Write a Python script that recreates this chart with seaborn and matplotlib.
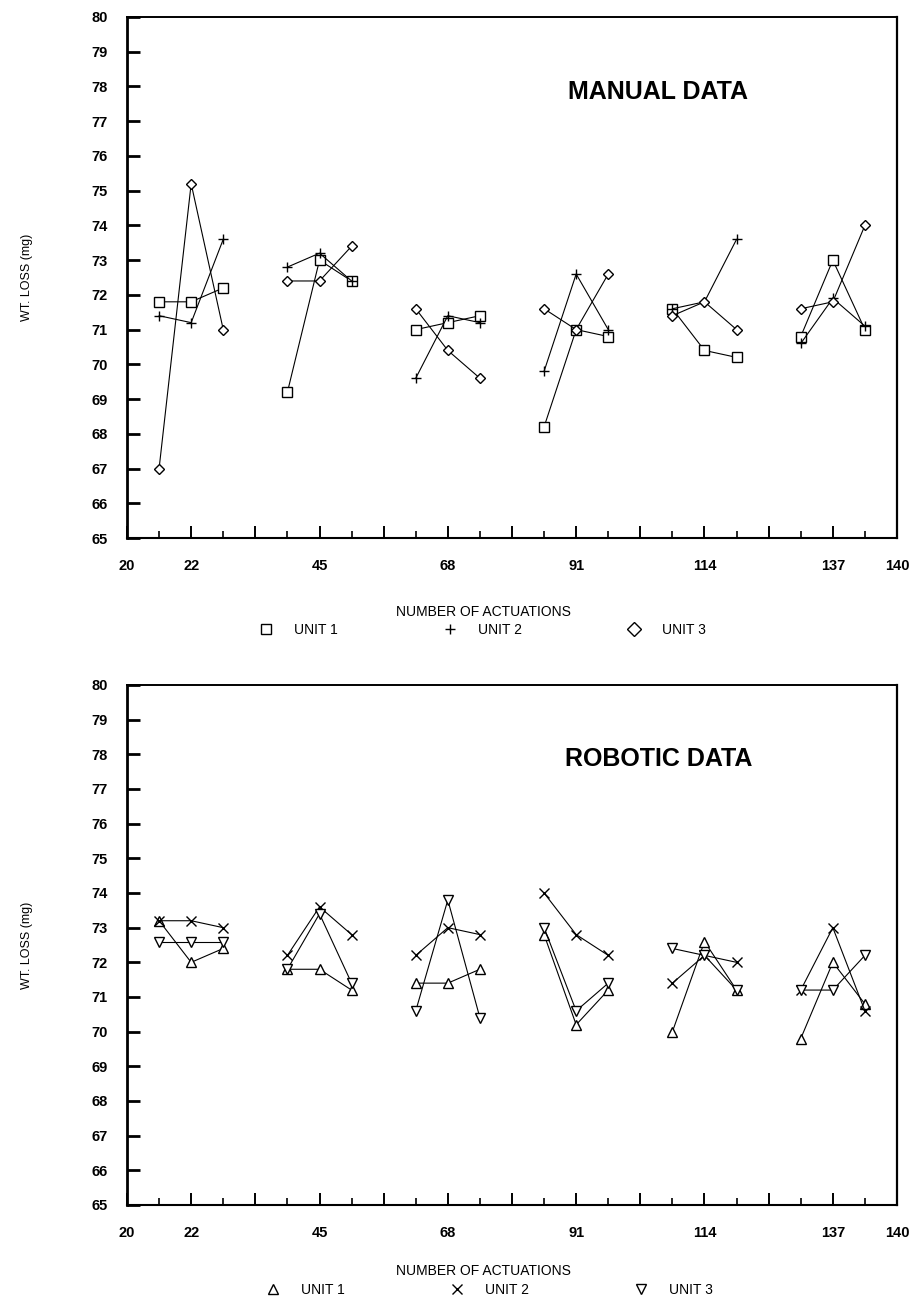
import numpy as np
import pandas as pd
import matplotlib
matplotlib.use("Agg")
import matplotlib.pyplot as plt
from matplotlib.lines import Line2D
import seaborn as sns

# ---------------- data ----------------
groups = ["22", "45", "68", "91", "114", "137"]
edge_labels = ["20", "140"]
units = ["UNIT 1", "UNIT 2", "UNIT 3"]

# three successive readings per unit within each actuation group
manual_unit1 = [[71.8, 71.8, 72.2], [69.2, 73.0, 72.4], [71.0, 71.2, 71.4],
                [68.2, 71.0, 70.8], [71.6, 70.4, 70.2], [70.8, 73.0, 71.0]]
manual_unit2 = [[71.4, 71.2, 73.6], [72.8, 73.2, 72.4], [69.6, 71.4, 71.2],
                [69.8, 72.6, 71.0], [71.6, 71.8, 73.6], [70.6, 71.9, 71.1]]
manual_unit3 = [[67.0, 75.2, 71.0], [72.4, 72.4, 73.4], [71.6, 70.4, 69.6],
                [71.6, 71.0, 72.6], [71.4, 71.8, 71.0], [71.6, 71.8, 74.0]]

robotic_unit1 = [[73.2, 72.0, 72.4], [71.8, 71.8, 71.2], [71.4, 71.4, 71.8],
                 [72.8, 70.2, 71.2], [70.0, 72.6, 71.2], [69.8, 72.0, 70.8]]
robotic_unit2 = [[73.2, 73.2, 73.0], [72.2, 73.6, 72.8], [72.2, 73.0, 72.8],
                 [74.0, 72.8, 72.2], [71.4, 72.2, 72.0], [71.2, 73.0, 70.6]]
robotic_unit3 = [[72.6, 72.6, 72.6], [71.8, 73.4, 71.4], [70.6, 73.8, 70.4],
                 [73.0, 70.6, 71.4], [72.4, 72.2, 71.2], [71.2, 71.2, 72.2]]

panel_titles = ["MANUAL DATA", "ROBOTIC DATA"]
xlabel = "NUMBER OF ACTUATIONS"
ylabel = "WT. LOSS (mg)"


def long_df(unit_lists):
    rows = []
    for name, vals in zip(units, unit_lists):
        for gi, g in enumerate(groups):
            for si, v in enumerate(vals[gi]):
                rows.append(dict(unit=name, group=g, gidx=gi, shot=si, value=v))
    df = pd.DataFrame(rows)
    df["pos"] = df["gidx"] + (df["shot"] - 1) * 0.25
    return df


manual_df = long_df([manual_unit1, manual_unit2, manual_unit3])
robotic_df = long_df([robotic_unit1, robotic_unit2, robotic_unit3])

# ---------------- style ----------------
sns.set_theme(style="white", rc={"axes.edgecolor": "black",
                                 "xtick.color": "black", "ytick.color": "black",
                                 "text.color": "black", "axes.labelcolor": "black"})
plt.rcParams["font.family"] = ["Liberation Sans", "DejaVu Sans"]

W, H = 910, 1299
fig = plt.figure(figsize=(W / 100, H / 100), dpi=100)

ax_left, ax_right = 127, 897
panels = [
    dict(ax=fig.add_axes([ax_left / W, 1 - 538 / H, (ax_right - ax_left) / W, 521 / H]),
         df=manual_df, markers={"UNIT 1": "s", "UNIT 2": "+", "UNIT 3": "D"},
         title=panel_titles[0], xlab_y=612, leg_y=630, leg_x=259),
    dict(ax=fig.add_axes([ax_left / W, 1 - 1205 / H, (ax_right - ax_left) / W, 520 / H]),
         df=robotic_df, markers={"UNIT 1": "^", "UNIT 2": "x", "UNIT 3": "v"},
         title=panel_titles[1], xlab_y=1271, leg_y=1290, leg_x=266),
]
marker_sizes = {"s": 6.5, "+": 7.5, "D": 5.5, "^": 7, "x": 6.5, "v": 7}

for p in panels:
    ax = p["ax"]
    mk = p["markers"]
    for u in units:
        sub = p["df"][p["df"]["unit"] == u]
        sns.lineplot(data=sub, x="pos", y="value", units="group",
                     estimator=None, marker=mk[u], color="black",
                     lw=0.8, ms=marker_sizes[mk[u]], mec="black", mfc="white",
                     mew=1.0, legend=False, sort=False, ax=ax)

    ax.set_xlim(-0.5, 5.5)
    ax.set_ylim(65, 80)

    major = np.arange(-0.5, 5.51, 0.5)
    labels = []
    for t in major:
        if abs(t + 0.5) < 1e-9:
            labels.append(edge_labels[0])
        elif abs(t - 5.5) < 1e-9:
            labels.append(edge_labels[1])
        elif abs(t - round(t)) < 1e-9:
            labels.append(groups[int(round(t))])
        else:
            labels.append("")
    ax.set_xticks(major)
    ax.set_xticklabels(labels)
    ax.set_xticks(np.arange(-0.25, 5.5, 0.5), minor=True)
    ax.set_yticks(np.arange(65, 81, 1))

    ax.tick_params(axis="x", which="major", direction="in", length=8.5, width=1.4,
                   pad=15, labelsize=10.5, bottom=True)
    ax.tick_params(axis="x", which="minor", direction="in", length=5, width=1.2,
                   bottom=True)
    ax.tick_params(axis="y", which="major", direction="in", length=9.5, width=2.0,
                   pad=14, labelsize=10.5, left=True)
    for lab in ax.get_xticklabels() + ax.get_yticklabels():
        lab.set_fontweight("bold")

    for side, lw in {"left": 2.0, "bottom": 1.5, "top": 1.4, "right": 1.6}.items():
        ax.spines[side].set_visible(True)
        ax.spines[side].set_linewidth(lw)
        ax.spines[side].set_color("black")

    ax.set_xlabel("")
    ax.set_ylabel(ylabel, fontsize=9)
    ax.yaxis.set_label_coords(-0.122, 0.5)

    ax.text(0.69, 0.857, p["title"], transform=ax.transAxes, ha="center",
            va="center", fontsize=18, fontweight="bold")

    fig.text(483 / W, 1 - p["xlab_y"] / H, xlabel, ha="center", va="center",
             fontsize=10)

    handles = [Line2D([], [], ls="none", marker=mk[u], ms=7.5, mec="black",
                      mfc="white", mew=1.0) for u in units]
    fig.legend(handles, units, ncol=3, loc="center left",
               bbox_to_anchor=(p["leg_x"] / W, 1 - p["leg_y"] / H),
               frameon=False, handlelength=1.0, handletextpad=1.5,
               columnspacing=7.6, fontsize=10, borderpad=0, borderaxespad=0)

fig.savefig("out.png", dpi=100)
